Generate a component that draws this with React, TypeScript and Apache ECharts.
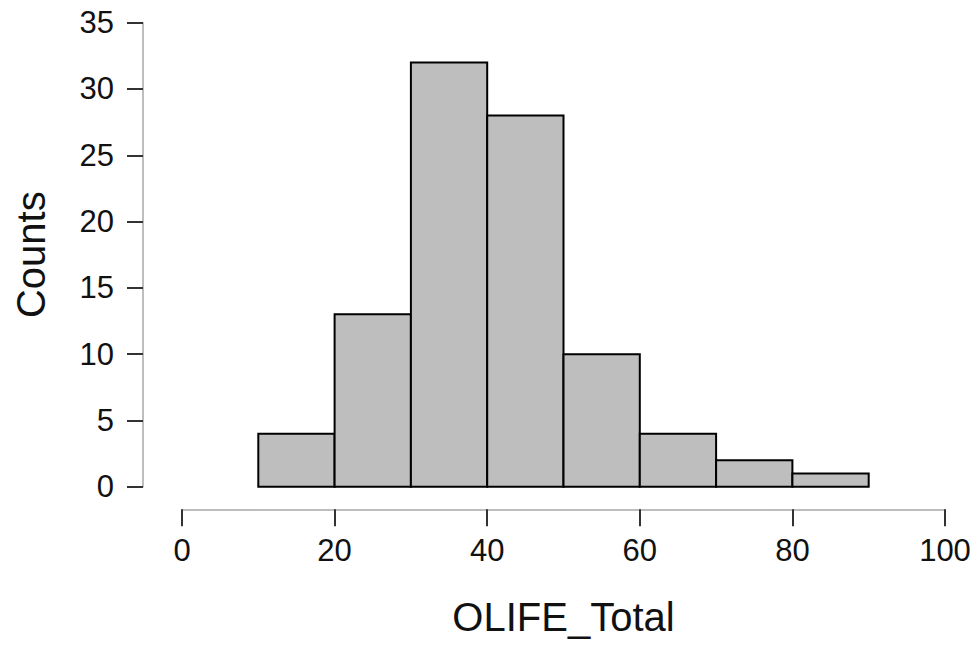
import React, { useEffect, useRef } from "react";
import * as echarts from "echarts";

// Histogram bins: lower edge, upper edge, count
const binStarts = [10, 20, 30, 40, 50, 60, 70, 80];
const binEnds = [20, 30, 40, 50, 60, 70, 80, 90];
const counts = [4, 13, 32, 28, 10, 4, 2, 1];

const xTicks = [0, 20, 40, 60, 80, 100];
const yTicks = [0, 5, 10, 15, 20, 25, 30, 35];

const FONT = "'Liberation Sans', Arial, Helvetica, sans-serif";

export default function App() {
  const ref = useRef<HTMLDivElement>(null);

  useEffect(() => {
    if (!ref.current) return;
    const chart = echarts.init(ref.current, null, { renderer: "svg" });
    const data = binStarts.map((s, i) => [s, binEnds[i], counts[i]]);

    chart.setOption({
      animation: false,
      backgroundColor: "#ffffff",
      grid: { left: 182, right: 35, top: 22.7, bottom: 159.3, containLabel: false },
      xAxis: {
        type: "value",
        min: xTicks[0],
        max: xTicks[xTicks.length - 1],
        interval: 20,
        offset: 22.6,
        name: "OLIFE_Total",
        nameLocation: "middle",
        nameGap: 88,
        nameTextStyle: { fontFamily: FONT, fontSize: 40, color: "#111" },
        axisLine: { show: true, onZero: false, lineStyle: { color: "#a8a8a8", width: 1.5 } },
        axisTick: { show: true, length: 17, lineStyle: { color: "#333", width: 2 } },
        axisLabel: { fontFamily: FONT, fontSize: 31, color: "#111", margin: 26 },
        splitLine: { show: false },
      },
      yAxis: {
        type: "value",
        min: yTicks[0],
        max: yTicks[yTicks.length - 1],
        interval: 5,
        offset: 39,
        name: "Counts",
        nameLocation: "middle",
        nameGap: 92,
        nameTextStyle: { fontFamily: FONT, fontSize: 40, color: "#111" },
        axisLine: { show: true, onZero: false, lineStyle: { color: "#a8a8a8", width: 1.5 } },
        axisTick: { show: true, length: 16, lineStyle: { color: "#333", width: 2 } },
        axisLabel: { fontFamily: FONT, fontSize: 31, color: "#111", margin: 29 },
        splitLine: { show: false },
      },
      series: [
        {
          type: "custom",
          data,
          encode: { x: [0, 1], y: 2 },
          renderItem: (params: any, api: any) => {
            const p0 = api.coord([api.value(0), api.value(2)]);
            const p1 = api.coord([api.value(1), 0]);
            return {
              type: "rect",
              shape: { x: p0[0], y: p0[1], width: p1[0] - p0[0], height: p1[1] - p0[1] },
              style: { fill: "#bebebe", stroke: "#000", lineWidth: 2 },
            };
          },
        },
      ],
    });
    return () => chart.dispose();
  }, []);

  return (
    <div
      ref={ref}
      style={{ position: "fixed", left: 0, top: 0, width: 980, height: 646, background: "#fff" }}
    />
  );
}
